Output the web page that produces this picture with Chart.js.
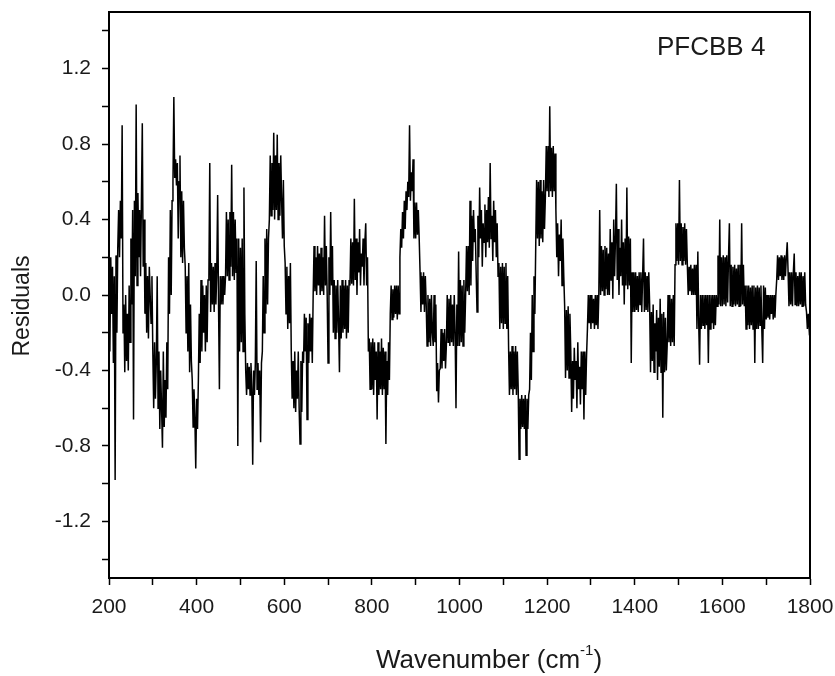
<!DOCTYPE html>
<html lang="en">
<head>
    <meta charset="utf-8">
    <script src="https://cdn.jsdelivr.net/npm/chart.js@4.4.1/dist/chart.umd.min.js"></script>
    <style>
        html, body { margin: 0; padding: 0; background: #fff; }
        #wrap { width: 835px; height: 676px; }
    </style>
</head>
<body>
<div id="wrap"><canvas id="residuals"></canvas></div>

<script type="text/javascript">
    // wavenumber grid (cm-1)
    var waveStart = 200;
    var waveStep = 2;

    // residuals, one row per 100 cm-1 (groups of 20 cm-1)
    var residuals = [
        0.05, -0.3, 0.2, -0.1, 0.15, -0.36, 0.1, -0.98, 0.21, -0.2,   0.25, 0.45, 0.2, 0.5, 0.3, 0.9, -0.2, -0.05, -0.41, 0.0,
        -0.35, -0.1, -0.4, 0.05, -0.25, 0.3, -0.05, 0.45, -0.66, 0.5,   0.1, 1.01, 0.05, 0.54, 0.2, 0.45, 0.1, 0.5, 0.91, 0.15,
        0.4, -0.1, 0.17, -0.2, 0.1, -0.23, 0.15, 0.0, -0.15, 0.1,

        -0.3, -0.6, -0.25, -0.55, -0.35, 0.1, -0.6, -0.3, -0.71, -0.4,   -0.6, -0.81, -0.3, -0.7, -0.45, -0.65, -0.25, -0.5, 0.2, -0.1,
        0.45, 0.0, 0.5, 0.6, 1.05, 0.62, 0.72, 0.58, 0.7, 0.3,   0.6, 0.74, 0.2, 0.55, 0.17, 0.5, 0.25, 0.15, -0.2, 0.1,
        -0.3, 0.17, -0.41, -0.05, -0.35, -0.45, -0.7, -0.5, -0.65, -0.92,

        -0.55, -0.71, -0.45, -0.1, -0.36, 0.08, -0.3, 0.05, -0.2, 0.0,   -0.3, 0.05, -0.25, 0.08, 0.1, 0.7, -0.09, 0.17, -0.05, 0.15,
        -0.09, 0.17, -0.05, 0.12, 0.53, -0.05, -0.5, 0.1, -0.05, 0.1,   -0.05, 0.1, 0.0, 0.1, 0.44, 0.1, 0.4, 0.08, 0.44, 0.15,
        0.69, 0.1, 0.44, 0.08, 0.4, 0.12, 0.3, -0.8, 0.3, -0.3,

        0.25, -0.25, 0.3, -0.3, 0.57, -0.1, -0.4, -0.53, -0.36, -0.5,   -0.38, -0.53, -0.36, -0.5, -0.9, -0.4, -0.53, -0.36, 0.18, -0.5,
        -0.36, -0.53, -0.4, -0.78, -0.36, -0.3, 0.1, -0.2, 0.3, -0.1,   0.35, -0.05, 0.3, 0.4, 0.74, 0.42, 0.7, 0.45, 0.86, 0.4,
        0.74, 0.45, 0.85, 0.4, 0.7, 0.42, 0.74, 0.5, 0.3, 0.61,

        0.26, 0.17, -0.1, 0.15, -0.18, 0.1, -0.15, 0.17, -0.3, -0.55,   -0.35, -0.6, -0.3, -0.62, -0.4, -0.55, -0.3, -0.6, -0.79, -0.35,
        -0.62, -0.3, -0.36, -0.1, -0.3, -0.12, -0.66, -0.15, -0.36, -0.1,   -0.3, -0.12, -0.36, 0.0, 0.26, 0.02, 0.2, 0.0, 0.26, 0.05,
        0.22, 0.0, 0.25, 0.02, 0.2, 0.0, 0.42, 0.05, 0.26, 0.0,

        -0.36, 0.2, 0.0, 0.44, 0.05, 0.26, -0.2, 0.08, -0.23, 0.05,   -0.2, 0.08, -0.15, -0.41, 0.05, -0.23, 0.08, -0.2, 0.05, -0.18,
        0.08, -0.23, 0.05, -0.2, 0.08, 0.05, 0.3, 0.06, 0.28, 0.05,   0.51, 0.08, 0.3, 0.0, 0.28, 0.12, 0.35, 0.05, 0.22, 0.15,
        0.3, 0.05, 0.28, 0.38, 0.05, 0.2, -0.3, -0.23, -0.5, -0.25,

        -0.5, -0.23, -0.53, -0.25, -0.45, -0.3, -0.66, -0.25, -0.53, -0.3,   -0.5, -0.23, -0.53, -0.28, -0.5, -0.3, -0.79, -0.35, -0.53, -0.25,
        -0.45, -0.1, 0.05, -0.13, 0.03, -0.12, 0.05, -0.1, 0.05, -0.13,   0.05, -0.1, 0.2, 0.35, 0.25, 0.44, 0.3, 0.5, 0.35, 0.55,
        0.45, 0.6, 0.52, 0.9, 0.5, 0.65, 0.55, 0.72, 0.3, 0.49,

        0.3, 0.49, 0.32, 0.45, 0.3, 0.12, -0.09, 0.1, -0.05, 0.12,   -0.09, 0.1, -0.05, -0.27, 0.0, -0.25, -0.02, -0.27, 0.0, -0.2,
        -0.27, 0.0, -0.25, -0.05, -0.51, -0.36, -0.57, -0.4, -0.39, -0.18,   -0.39, -0.2, -0.35, -0.18, -0.39, -0.27, 0.0, -0.25, -0.02, -0.27,
        0.0, -0.25, -0.05, -0.27, 0.0, -0.2, -0.6, -0.05, -0.27, 0.23,

        -0.27, 0.08, -0.25, 0.05, -0.27, 0.08, -0.2, 0.0, 0.26, 0.02,   0.26, 0.0, 0.5, 0.05, 0.42, 0.18, 0.45, 0.28, 0.35, 0.12,
        -0.09, 0.42, 0.2, 0.57, 0.3, 0.45, 0.15, 0.38, 0.28, 0.48,   0.2, 0.45, 0.28, 0.52, 0.25, 0.7, 0.3, 0.42, 0.18, 0.5,
        0.28, 0.45, 0.2, 0.38, 0.1, 0.17, -0.18, 0.15, -0.15, 0.17,

        -0.18, 0.15, -0.15, 0.17, -0.18, 0.1, -0.27, -0.53, -0.3, -0.5,   -0.27, -0.53, -0.3, -0.5, -0.27, -0.53, -0.3, -0.5, -0.87, -0.55,
        -0.71, -0.53, -0.7, -0.55, -0.71, -0.53, -0.85, -0.55, -0.71, -0.53,   -0.5, -0.2, -0.45, 0.0, -0.3, 0.1, -0.1, 0.26, 0.61, 0.3,
        0.6, 0.26, 0.61, 0.3, 0.55, 0.28, 0.61, 0.35, 0.52, 0.79,

        0.55, 0.79, 0.52, 1.0, 0.55, 0.78, 0.52, 0.79, 0.55, 0.75,   0.45, 0.2, 0.38, 0.1, 0.32, 0.18, 0.4, 0.05, 0.3, 0.1,
        -0.06, -0.44, -0.08, -0.4, -0.06, -0.44, -0.1, -0.3, -0.62, -0.35,   -0.55, -0.28, -0.45, -0.35, -0.6, -0.25, -0.5, -0.38, -0.58, -0.3,
        -0.5, -0.3, -0.66, -0.3, -0.53, -0.32, -0.18, 0.0, -0.15, 0.0,

        -0.18, 0.0, -0.15, -0.02, -0.18, 0.0, -0.16, 0.0, -0.18, 0.0,   0.45, 0.0, 0.26, 0.02, 0.24, 0.0, 0.26, 0.03, 0.25, 0.0,
        0.22, 0.0, 0.35, 0.08, 0.28, -0.02, 0.4, 0.1, 0.3, 0.59,   0.08, 0.35, 0.0, 0.25, 0.1, 0.4, 0.05, 0.28, -0.05, 0.3,
        0.05, 0.57, 0.03, 0.31, 0.05, 0.3, -0.36, 0.12, -0.09, 0.12,

        -0.09, 0.12, -0.08, 0.1, -0.09, 0.12, -0.05, 0.12, -0.09, 0.1,   0.3, -0.09, 0.12, -0.08, 0.1, -0.09, 0.12, -0.05, -0.41, -0.09,
        -0.35, -0.05, -0.41, -0.15, -0.3, -0.08, -0.45, -0.12, -0.38, -0.02,   -0.41, -0.1, -0.65, -0.09, -0.41, -0.12, -0.4, -0.27, 0.0, -0.25,
        0.0, -0.27, -0.02, -0.25, 0.0, -0.27, 0.16, 0.38, 0.18, 0.38,

        0.16, 0.61, 0.18, 0.38, 0.16, 0.36, 0.18, 0.38, 0.16, 0.35,   0.16, 0.0, 0.15, 0.02, 0.16, 0.0, 0.14, 0.0, 0.16, 0.0,
        0.16, -0.18, 0.23, -0.15, -0.37, 0.0, -0.18, 0.0, -0.16, 0.0,   -0.18, 0.0, -0.16, 0.0, -0.36, 0.0, -0.18, 0.0, -0.15, 0.0,
        -0.18, 0.0, -0.16, 0.0, -0.06, 0.21, -0.05, 0.4, -0.06, 0.2,

        -0.06, 0.21, -0.05, 0.2, -0.06, 0.21, -0.04, 0.2, 0.38, -0.06,   0.16, -0.06, 0.15, -0.05, 0.16, -0.06, 0.14, -0.05, 0.16, -0.06,
        0.16, -0.06, 0.38, -0.05, 0.16, -0.06, 0.05, -0.18, 0.05, -0.16,   0.05, -0.18, 0.04, -0.16, 0.05, -0.18, 0.05, -0.36, 0.04, -0.18,
        0.05, -0.18, 0.04, -0.16, 0.05, -0.18, -0.36, 0.05, -0.18, 0.04,

        -0.13, 0.0, -0.12, 0.0, -0.13, 0.0, -0.1, 0.0, -0.13, 0.0,   -0.12, 0.0, 0.08, 0.21, 0.08, 0.2, 0.1, 0.21, 0.08, 0.2,
        0.08, 0.21, 0.1, 0.2, 0.28, 0.12, -0.06, 0.12, -0.05, 0.12,   -0.06, 0.12, 0.22, -0.05, 0.12, -0.06, 0.1, -0.06, 0.12, -0.05,
        0.12, -0.06, 0.1, -0.06, 0.12, -0.05, -0.09, -0.18, -0.1, -0.18,

        -0.15
    ];

    // axes
    var xMin = 200, xMax = 1800;
    var yMin = -1.5, yMax = 1.5;
    var xTicks = [200, 300, 400, 500, 600, 700, 800, 900, 1000, 1100, 1200, 1300, 1400, 1500, 1600, 1700, 1800];
    var xLabels = [200, 400, 600, 800, 1000, 1200, 1400, 1600, 1800];
    var yTicks = [-1.4, -1.2, -1.0, -0.8, -0.6, -0.4, -0.2, 0.0, 0.2, 0.4, 0.6, 0.8, 1.0, 1.2, 1.4];
    var yLabels = ['-1.2', '-0.8', '-0.4', '0.0', '0.4', '0.8', '1.2'];

    var xTitle = 'Wavenumber (cm';
    var xTitleSup = '-1';
    var yTitle = 'Residuals';
    var sampleLabel = 'PFCBB 4';

    var points = [];
    for (var i = 0; i < residuals.length; i++) {
        points.push({x: waveStart + i * waveStep, y: residuals[i]});
    }

    var fontName = '"Liberation Sans", Arial, sans-serif';
    var textColor = '#1a1a1a';

    // frame + titles drawn by hand (superscript, off-centre placement)
    var frameAndText = {
        id: 'frameAndText',
        afterDraw: function (chart) {
            var ctx = chart.ctx;
            var a = chart.chartArea;
            ctx.save();
            ctx.strokeStyle = '#000';
            ctx.lineWidth = 2;
            ctx.strokeRect(a.left, a.top, a.right - a.left, a.bottom - a.top);

            ctx.fillStyle = textColor;
            ctx.textBaseline = 'alphabetic';

            // x title with superscript
            ctx.font = '26px ' + fontName;
            var w1 = ctx.measureText(xTitle).width;
            ctx.font = '15px ' + fontName;
            var w2 = ctx.measureText(xTitleSup).width;
            ctx.font = '26px ' + fontName;
            var w3 = ctx.measureText(')').width;
            var x0 = 489 - (w1 + w2 + w3) / 2;
            var yb = 668;
            ctx.textAlign = 'left';
            ctx.fillText(xTitle, x0, yb);
            ctx.font = '15px ' + fontName;
            ctx.fillText(xTitleSup, x0 + w1, yb - 13);
            ctx.font = '26px ' + fontName;
            ctx.fillText(')', x0 + w1 + w2, yb);

            // y title
            ctx.save();
            ctx.translate(23, 306);
            ctx.rotate(-Math.PI / 2);
            ctx.textAlign = 'center';
            ctx.textBaseline = 'middle';
            ctx.font = '23px ' + fontName;
            ctx.fillText(yTitle, 0, 0);
            ctx.restore();

            // sample label
            ctx.textAlign = 'left';
            ctx.font = '26px ' + fontName;
            ctx.fillText(sampleLabel, 657, 55);
            ctx.restore();
        }
    };

    new Chart(document.getElementById('residuals'), {
        type: 'line',
        data: {
            datasets: [{
                label: yTitle,
                data: points,
                borderColor: '#000',
                borderWidth: 1.5,
                pointRadius: 0,
                tension: 0,
                fill: false
            }]
        },
        options: {
            responsive: true,
            maintainAspectRatio: false,
            animation: false,
            layout: {
                padding: {top: 12, right: 25, left: 0, bottom: 0}
            },
            plugins: {
                legend: {display: false},
                tooltip: {enabled: false}
            },
            scales: {
                x: {
                    type: 'linear',
                    min: xMin,
                    max: xMax,
                    afterFit: function (scale) {
                        scale.height = 98;
                        scale.paddingLeft = 0;
                        scale.paddingRight = 0;
                    },
                    afterBuildTicks: function (scale) {
                        scale.ticks = xTicks.map(function (v) { return {value: v}; });
                    },
                    border: {display: true, color: '#000', width: 2},
                    grid: {
                        drawOnChartArea: false,
                        drawTicks: true,
                        tickLength: 7,
                        tickColor: '#000',
                        tickWidth: 1.5
                    },
                    ticks: {
                        maxRotation: 0,
                        autoSkip: false,
                        padding: 10,
                        color: textColor,
                        font: {family: fontName, size: 21},
                        callback: function (v) {
                            return xLabels.indexOf(Math.round(v)) >= 0 ? String(Math.round(v)) : '';
                        }
                    }
                },
                y: {
                    min: yMin,
                    max: yMax,
                    afterFit: function (scale) {
                        scale.width = 109;
                        scale.paddingTop = 0;
                        scale.paddingBottom = 0;
                    },
                    afterBuildTicks: function (scale) {
                        scale.ticks = yTicks.map(function (v) { return {value: v}; });
                    },
                    border: {display: true, color: '#000', width: 2},
                    grid: {
                        drawOnChartArea: false,
                        drawTicks: true,
                        tickLength: 7,
                        tickWidth: 1.5,
                        tickColor: '#000'
                    },
                    ticks: {
                        autoSkip: false,
                        padding: 11,
                        color: textColor,
                        font: {family: fontName, size: 21},
                        callback: function (v) {
                            var s = (Math.round(v * 10) / 10).toFixed(1);
                            if (s === '-0.0') s = '0.0';
                            return yLabels.indexOf(s) >= 0 ? s : '';
                        }
                    }
                }
            }
        },
        plugins: [frameAndText]
    });
</script>
</body>
</html>
